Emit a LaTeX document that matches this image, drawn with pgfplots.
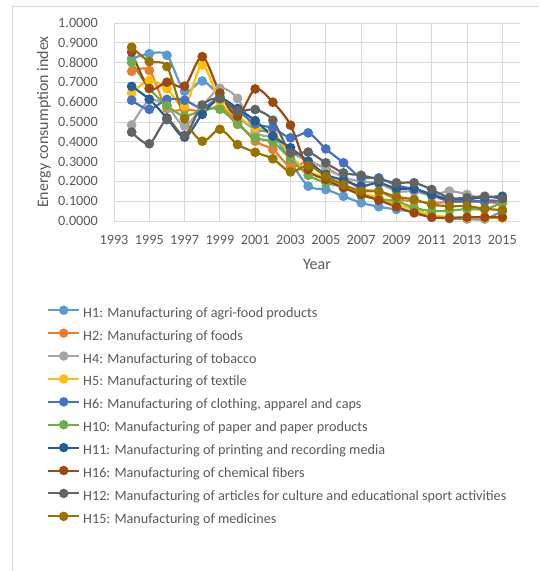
\documentclass[border=0pt]{standalone}
\usepackage{pgfplots}
\usepackage{pgfplotstable}
\usepackage{fontspec}
\setmainfont{Carlito}
\pgfplotsset{compat=1.18}

\definecolor{cH1}{HTML}{5B9BD5}
\definecolor{cH2}{HTML}{ED7D31}
\definecolor{cH4}{HTML}{A5A5A5}
\definecolor{cH5}{HTML}{FFC000}
\definecolor{cH6}{HTML}{4472C4}
\definecolor{cH10}{HTML}{70AD47}
\definecolor{cH11}{HTML}{255E91}
\definecolor{cH16}{HTML}{9E480E}
\definecolor{cH12}{HTML}{636363}
\definecolor{cH15}{HTML}{997300}
\definecolor{txt}{HTML}{595959}
\definecolor{gridc}{HTML}{D9D9D9}

% Energy consumption index by industry, 1994--2015
\pgfplotstableread{
year  H1    H2    H4    H5    H6    H10   H11   H16   H12   H15
1994  0.820 0.756 0.485 0.646 0.610 0.800 0.680 0.853 0.449 0.878
1995  0.845 0.760 0.610 0.710 0.564 0.670 0.615 0.669 0.390 0.805
1996  0.837 0.567 0.580 0.668 0.614 0.583 0.520 0.701 0.512 0.780
1997  0.655 0.565 0.480 0.580 0.610 0.530 0.424 0.681 0.432 0.516
1998  0.707 0.555 0.580 0.788 0.570 0.560 0.539 0.830 0.586 0.403
1999  0.630 0.576 0.670 0.600 0.620 0.564 0.618 0.646 0.620 0.463
2000  0.530 0.500 0.619 0.530 0.560 0.488 0.568 0.530 0.556 0.386
2001  0.462 0.403 0.450 0.470 0.490 0.420 0.507 0.667 0.563 0.347
2002  0.440 0.361 0.420 0.450 0.470 0.398 0.428 0.600 0.509 0.314
2003  0.300 0.274 0.350 0.330 0.420 0.314 0.370 0.484 0.344 0.248
2004  0.176 0.300 0.300 0.250 0.445 0.231 0.302 0.260 0.348 0.280
2005  0.159 0.264 0.270 0.220 0.364 0.193 0.235 0.210 0.294 0.226
2006  0.125 0.220 0.220 0.180 0.294 0.170 0.206 0.168 0.243 0.184
2007  0.092 0.160 0.200 0.140 0.220 0.130 0.176 0.134 0.231 0.151
2008  0.072 0.150 0.190 0.120 0.218 0.110 0.193 0.105 0.210 0.150
2009  0.058 0.110 0.150 0.083 0.180 0.100 0.163 0.072 0.193 0.122
2010  0.045 0.100 0.150 0.060 0.160 0.067 0.163 0.041 0.193 0.109
2011  0.020 0.092 0.130 0.030 0.130 0.050 0.134 0.019 0.159 0.083
2012  0.012 0.095 0.151 0.020 0.100 0.053 0.110 0.016 0.117 0.075
2013  0.010 0.097 0.134 0.015 0.100 0.060 0.110 0.019 0.117 0.075
2014  0.010 0.095 0.110 0.015 0.100 0.060 0.120 0.019 0.125 0.062
2015  0.050 0.090 0.100 0.015 0.100 0.092 0.125 0.019 0.112 0.055
}\datatable

\newcommand{\chartfont}{\fontsize{14.2pt}{17pt}\selectfont}
\newcommand{\titlefont}{\fontsize{16pt}{19pt}\selectfont}

\begin{document}
\begin{tikzpicture}
\path[use as bounding box] (0,0) rectangle (539pt,571pt);
\draw[gridc, line width=1pt] (12pt,0) -- (12pt,564pt) -- (539pt,564pt);
\begin{axis}[
  at={(114pt,350pt)}, anchor=south west,
  scale only axis, width=406pt, height=198pt,
  xmin=1993, xmax=2016, ymin=0, ymax=1,
  xtick={1993,1995,...,2015},
  ytick={0,0.1,...,1.0},
  axis line style={draw=none},
  major tick length=0pt,
  grid=major,
  major grid style={gridc, line width=1pt},
  font=\chartfont,
  tick label style={font=\chartfont, text=txt, inner sep=0pt},
  yticklabel shift=16pt,
  xticklabel shift=14pt,
  /pgf/number format/assume math mode=true,
  yticklabel style={/pgf/number format/.cd, fixed, fixed zerofill, precision=4},
  xticklabel style={/pgf/number format/1000 sep={}},
  xlabel={Year}, ylabel={Energy consumption index},
  every axis x label/.style={at={(rel axis cs:0.5,0)}, yshift=-43pt, anchor=center, text=txt, font=\titlefont},
  every axis y label/.style={at={(rel axis cs:0,0.5)}, xshift=-70pt, rotate=90, anchor=center, text=txt, font=\titlefont},
  every axis plot/.append style={line width=2.2pt, smooth, tension=0.5, mark=*, mark size=3.7pt, mark options={solid, line width=0pt}},
  legend cell align=left,
  legend style={at={(axis description cs:-0.165,-0.431)}, anchor=north west,
    draw=none, fill=none, inner sep=0pt, font=\chartfont, text=txt,
    row sep=9.2pt, column sep=3pt,
    nodes={inner sep=0pt, text height=10pt, text depth=3pt}},
  legend image code/.code={\draw[#1, mark repeat=2, mark phase=2, line width=2pt, mark size=3.7pt] plot coordinates {(0pt,3.5pt) (15.5pt,3.5pt) (31pt,3.5pt)};},
]
\addplot[cH1, mark options={fill=cH1}] table[x=year, y=H1] {\datatable};
\addlegendentry{H1: Manufacturing of agri-food products}
\addplot[cH2, mark options={fill=cH2}] table[x=year, y=H2] {\datatable};
\addlegendentry{H2: Manufacturing of foods}
\addplot[cH4, mark options={fill=cH4}] table[x=year, y=H4] {\datatable};
\addlegendentry{H4: Manufacturing of tobacco}
\addplot[cH5, mark options={fill=cH5}] table[x=year, y=H5] {\datatable};
\addlegendentry{H5: Manufacturing of textile}
\addplot[cH6, mark options={fill=cH6}] table[x=year, y=H6] {\datatable};
\addlegendentry{H6: Manufacturing of clothing, apparel and caps}
\addplot[cH10, mark options={fill=cH10}] table[x=year, y=H10] {\datatable};
\addlegendentry{H10: Manufacturing of paper and paper products}
\addplot[cH11, mark options={fill=cH11}] table[x=year, y=H11] {\datatable};
\addlegendentry{H11: Manufacturing of printing and recording media}
\addplot[cH16, mark options={fill=cH16}] table[x=year, y=H16] {\datatable};
\addlegendentry{H16: Manufacturing of chemical fibers}
\addplot[cH12, mark options={fill=cH12}] table[x=year, y=H12] {\datatable};
\addlegendentry{H12: Manufacturing of articles for culture and educational sport activities}
\addplot[cH15, mark options={fill=cH15}] table[x=year, y=H15] {\datatable};
\addlegendentry{H15: Manufacturing of medicines}
\end{axis}
\end{tikzpicture}
\end{document}
